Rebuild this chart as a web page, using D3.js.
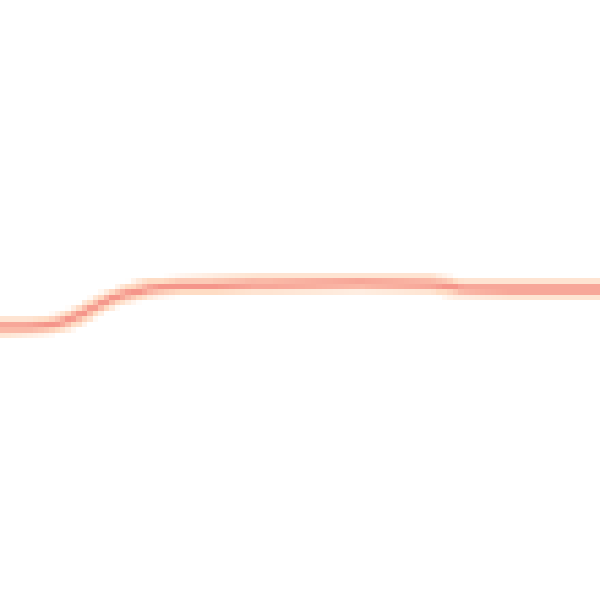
<!DOCTYPE html>
<html>
<head>
<meta charset="utf-8">
<script src="https://cdn.jsdelivr.net/npm/d3@7"></script>
<style>
  body { margin: 0; background: #fff; }
  canvas { display: block; }
</style>
</head>
<body>
<script>
// series (x in % of width, y in % of height from bottom)
var xValues = [0, 8, 11, 14, 17, 21, 25, 30, 45, 60, 72, 77, 85, 100];
var yValues = [45.5, 45.8, 46.5, 47.8, 49.5, 51.0, 52.0, 52.4, 52.7, 52.8, 52.7, 51.9, 51.8, 51.8];

var size = 600,
    res = 110; // the original is a tiny image blown up

// draw small first, off screen
var small = document.createElement("canvas");
small.width = res;
small.height = res;
var ctx = small.getContext("2d");
ctx.fillStyle = "#fff";
ctx.fillRect(0, 0, res, res);

var scaleX = d3.scaleLinear().domain([0, 100]).range([0, res]);
var scaleY = d3.scaleLinear().domain([0, 100]).range([res, 0]);

var data = xValues.map(function(x, i) { return {x: x, y: yValues[i]}; });

var line = d3.line()
    .x(function(d) { return scaleX(d.x); })
    .y(function(d) { return scaleY(d.y); })
    .curve(d3.curveMonotoneX)
    .context(ctx);

// pale halo
ctx.beginPath();
line(data);
ctx.strokeStyle = "#fedcc4";
ctx.lineWidth = 3.4;
ctx.stroke();

// salmon core
ctx.beginPath();
line(data);
ctx.strokeStyle = "#f5958a";
ctx.lineWidth = 1.3;
ctx.stroke();

// blow it up with hard pixels
var big = d3.select("body").append("canvas")
    .attr("width", size)
    .attr("height", size);
var bctx = big.node().getContext("2d");
bctx.imageSmoothingEnabled = false;
bctx.drawImage(small, 0, 0, size, size);
</script>
</body>
</html>
